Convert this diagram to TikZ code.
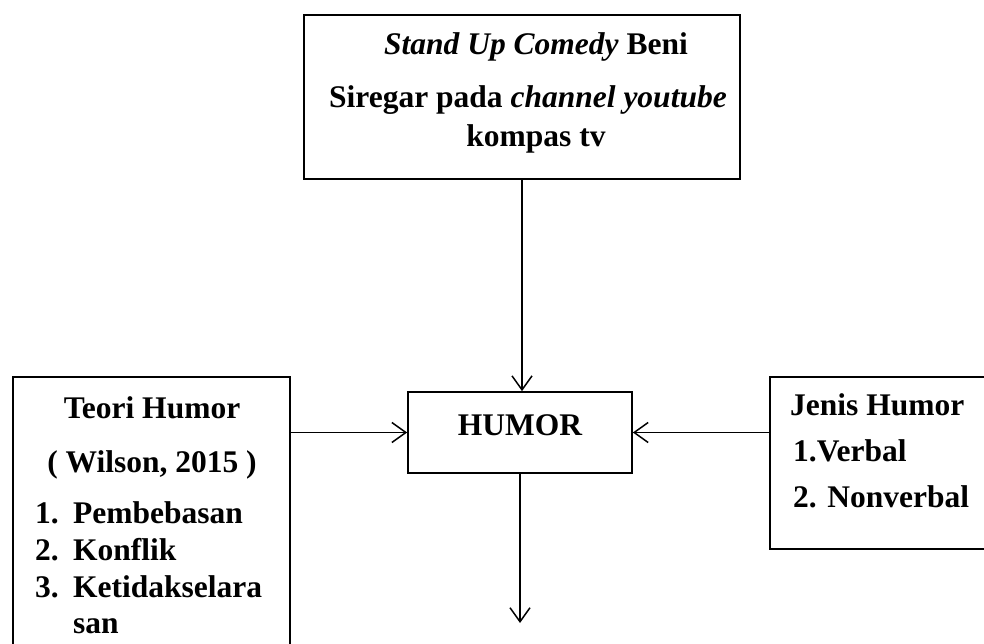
\documentclass[tikz,border=0pt]{standalone}
\usepackage{fontspec}
\setmainfont{Liberation Serif}
\usetikzlibrary{arrows.meta}

\begin{document}
\begin{tikzpicture}[x=1pt, y=-1pt,
    box/.style={draw, line width=1.7pt, inner sep=0pt},
    txt/.style={inner sep=0pt, anchor=base, font=\fontsize{31.5}{37}\selectfont\bfseries},
    txtl/.style={txt, anchor=base west},
    arr/.style={line width=1.5pt, -{Straight Barb[length=14pt, width=20pt, line width=1.5pt]}}]
    \useasboundingbox (0,0) rectangle (984,644);

    % boxes
    \node[box, minimum width=436pt, minimum height=164pt] (top)   at (522,97)    {};
    \node[box, minimum width=224pt, minimum height=81pt]  (humor) at (520,432.5) {};
    \node[box, minimum width=277pt, minimum height=300pt] (teori) at (151.5,527) {};
    \node[box, minimum width=230pt, minimum height=172pt] (jenis) at (885,463)   {};

    % texts
    \node[txt] (top1) at (536,55)  {\textit{Stand Up Comedy} Beni};
    \node[txt] (top2) at (528,108) {Siregar pada \textit{channel youtube}};
    \node[txt] (top3) at (536,147) {kompas tv};

    \node[txt] (hum) at (520,435) {HUMOR};

    \node[txt]  (teo1) at (152,418) {Teori Humor};
    \node[txt]  (teo2) at (152,472) {( Wilson, 2015 )};
    \node[txtl] (n1) at (35,523) {1.};
    \node[txtl] (n2) at (35,560) {2.};
    \node[txtl] (n3) at (35,597) {3.};
    \node[txtl] (t1) at (73,523) {Pembebasan};
    \node[txtl] (t2) at (73,560) {Konflik};
    \node[txtl] (t3) at (73,597) {Ketidakselara};
    \node[txtl] (t4) at (73,633) {san};

    \node[txtl] (jen1) at (790,415) {Jenis Humor};
    \node[txtl] (jen2) at (793,461) {1.Verbal};
    \node[txtl] (jen3) at (793,507) {2. Nonverbal};

    \coordinate (out) at (520,623);

    % arrows
    \draw[arr] (top.south) -- (top.south |- humor.north);
    \draw[arr] (humor.west -| teori.east) -- (humor.west);
    \draw[arr] (humor.east -| jenis.west) -- (humor.east);
    \draw[arr] (humor.south) -- (out);
\end{tikzpicture}
\end{document}
